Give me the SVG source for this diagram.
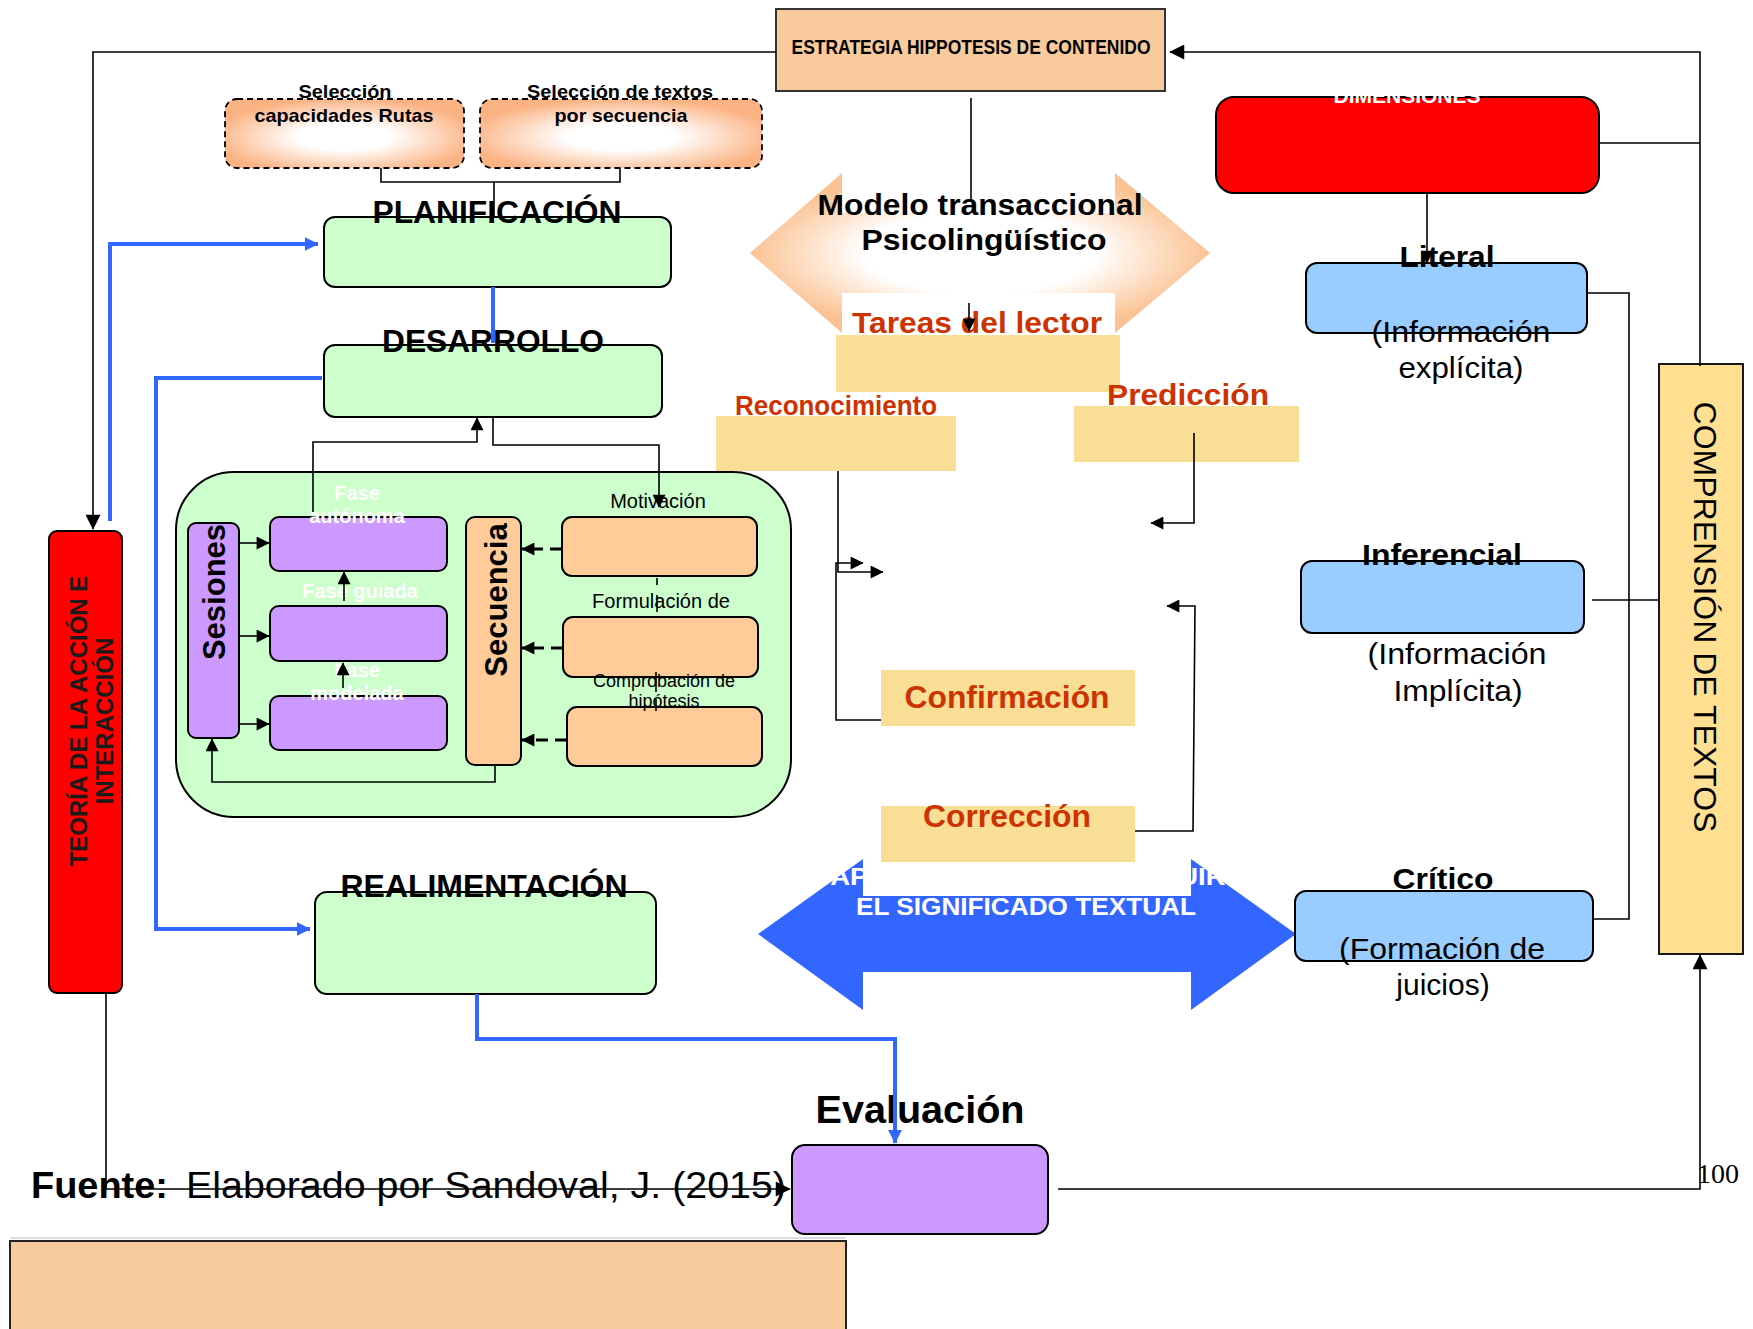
<svg xmlns="http://www.w3.org/2000/svg" width="1753" height="1329" viewBox="0 0 1753 1329">
<defs>
  <marker id="ah" viewBox="0 0 10 10" refX="9.5" refY="5" markerWidth="17" markerHeight="15" markerUnits="userSpaceOnUse" orient="auto"><path d="M0,0 L10,5 L0,10 z" fill="#000"/></marker>
  <marker id="ahs" viewBox="0 0 10 10" refX="9.5" refY="5" markerWidth="16" markerHeight="13" markerUnits="userSpaceOnUse" orient="auto"><path d="M0,0 L10,5 L0,10 z" fill="#000"/></marker>
  <marker id="ahb" viewBox="0 0 10 10" refX="9.5" refY="5" markerWidth="14" markerHeight="16" markerUnits="userSpaceOnUse" orient="auto"><path d="M0,0 L10,5 L0,10 z" fill="#3366FF"/></marker>
  <radialGradient id="gSel" cx="0.5" cy="0.55" r="0.55">
    <stop offset="0" stop-color="#FFFFFF"/>
    <stop offset="0.35" stop-color="#FFFFFF"/>
    <stop offset="1" stop-color="#FBB384"/>
  </radialGradient>
  <radialGradient id="gHex" cx="0.5" cy="0.5" r="0.5">
    <stop offset="0" stop-color="#FFFFFF"/>
    <stop offset="0.5" stop-color="#FFFFFF"/>
    <stop offset="1" stop-color="#FBC393"/>
  </radialGradient>
</defs>
<style>
  text { font-family: 'Liberation Sans', Arial, sans-serif; fill:#000; }
  .b { font-weight: bold; }
  .bx { stroke:#000; stroke-width:2; }
  .green { fill:#CCFFCC; }
  .purple { fill:#CC99FF; }
  .peach { fill:#FFCC99; }
  .sky { fill:#99CCFF; }
  .yel { fill:#F9DE95; }
  .ln { fill:none; stroke:#000; stroke-width:1.6; }
  .bl { fill:none; stroke:#3366FF; stroke-width:4; }
  .dsh { fill:none; stroke:#000; stroke-width:3; stroke-dasharray:12 7; }
  .or { fill:#CC3300; font-weight:bold; }
  .wt { fill:#FFFFFF; font-weight:bold; }
</style>
<rect width="1753" height="1329" fill="#FFFFFF"/>

<g id="estrategia">
  <rect x="776" y="9" width="389" height="82" fill="#F9CB9C" stroke="#333" stroke-width="2"/>
  <text x="971" y="54" class="b" font-size="20" text-anchor="middle" textLength="359" lengthAdjust="spacingAndGlyphs">ESTRATEGIA HIPPOTESIS DE CONTENIDO</text>
</g>

<g id="seleccion1">
  <rect x="225" y="99" width="239" height="69" rx="12" fill="url(#gSel)" stroke="#000" stroke-width="1.8" stroke-dasharray="6 4"/>
  <text x="345" y="98" class="b" font-size="19" text-anchor="middle" textLength="93" lengthAdjust="spacingAndGlyphs">Selección</text>
  <text x="344" y="122" class="b" font-size="19" text-anchor="middle" textLength="179" lengthAdjust="spacingAndGlyphs">capacidades Rutas</text>
</g>
<g id="seleccion2">
  <rect x="480" y="99" width="282" height="69" rx="12" fill="url(#gSel)" stroke="#000" stroke-width="1.8" stroke-dasharray="6 4"/>
  <text x="620" y="98" class="b" font-size="19" text-anchor="middle" textLength="186" lengthAdjust="spacingAndGlyphs">Selección de textos</text>
  <text x="621" y="122" class="b" font-size="19" text-anchor="middle" textLength="133" lengthAdjust="spacingAndGlyphs">por secuencia</text>
</g>

<g id="planificacion">
  <rect x="324" y="217" width="347" height="70" rx="11" class="green bx"/>
  <text x="497" y="223" class="b" font-size="31" text-anchor="middle" textLength="249" lengthAdjust="spacingAndGlyphs">PLANIFICACIÓN</text>
</g>
<g id="desarrollo">
  <rect x="324" y="345" width="338" height="72" rx="11" class="green bx"/>
  <text x="493" y="352" class="b" font-size="31" text-anchor="middle" textLength="222" lengthAdjust="spacingAndGlyphs">DESARROLLO</text>
</g>

<g id="modelo">
  <polygon points="750,253 842,173 842,213 1115,213 1115,173 1210,253 1115,333 1115,293 842,293 842,333" fill="url(#gHex)"/>
  <text x="980" y="215" class="b" font-size="30" text-anchor="middle" textLength="325" lengthAdjust="spacingAndGlyphs">Modelo transaccional</text>
  <text x="984" y="250" class="b" font-size="30" text-anchor="middle" textLength="245" lengthAdjust="spacingAndGlyphs">Psicolingüístico</text>
</g>

<g id="tareas">
  <rect x="836" y="335" width="284" height="57" class="yel"/>
  <text x="977" y="333" class="or" font-size="30" text-anchor="middle" textLength="250" lengthAdjust="spacingAndGlyphs">Tareas del lector</text>
</g>
<g id="reconocimiento">
  <rect x="716" y="416" width="240" height="55" class="yel"/>
  <text x="836" y="415" class="or" font-size="27" text-anchor="middle" textLength="202" lengthAdjust="spacingAndGlyphs">Reconocimiento</text>
</g>
<g id="prediccion">
  <rect x="1074" y="406" width="225" height="56" class="yel"/>
  <text x="1188" y="405" class="or" font-size="30" text-anchor="middle" textLength="162" lengthAdjust="spacingAndGlyphs">Predicción</text>
</g>
<g id="confirmacion">
  <rect x="881" y="670" width="254" height="56" class="yel"/>
  <text x="1007" y="708" class="or" font-size="31" text-anchor="middle" textLength="205" lengthAdjust="spacingAndGlyphs">Confirmación</text>
</g>

<g id="capacidad">
  <polygon points="758,934 863,859 863,896 1191,896 1191,859 1296,934 1191,1010 1191,972 863,972 863,1010" fill="#3366FF"/>
  <text x="1018" y="885" class="wt" font-size="23" text-anchor="middle" textLength="415" lengthAdjust="spacingAndGlyphs">CAPACIDAD PARA CONSTRUIR</text>
  <text x="1026" y="915" class="wt" font-size="23" text-anchor="middle" textLength="340" lengthAdjust="spacingAndGlyphs">EL SIGNIFICADO TEXTUAL</text>
</g>
<g id="correccion">
  <rect x="881" y="806" width="254" height="56" class="yel"/>
  <text x="1007" y="827" class="or" font-size="31" text-anchor="middle" textLength="168" lengthAdjust="spacingAndGlyphs">Corrección</text>
</g>

<g id="dimensiones">
  <rect x="1216" y="97" width="383" height="96" rx="18" fill="#FF0000" stroke="#000" stroke-width="2"/>
  <text x="1407" y="103" class="wt" font-size="21" text-anchor="middle">DIMENSIONES</text>
</g>
<g id="literal">
  <rect x="1306" y="263" width="281" height="70" rx="11" class="sky bx"/>
  <text x="1447" y="267" class="b" font-size="30" text-anchor="middle" textLength="95" lengthAdjust="spacingAndGlyphs">Literal</text>
  <text x="1461" y="342" font-size="30" text-anchor="middle" textLength="179" lengthAdjust="spacingAndGlyphs">(Información</text>
  <text x="1461" y="378" font-size="30" text-anchor="middle" textLength="125" lengthAdjust="spacingAndGlyphs">explícita)</text>
</g>
<g id="inferencial">
  <rect x="1301" y="561" width="283" height="72" rx="11" class="sky bx"/>
  <text x="1442" y="565" class="b" font-size="30" text-anchor="middle" textLength="160" lengthAdjust="spacingAndGlyphs">Inferencial</text>
  <text x="1457" y="664" font-size="30" text-anchor="middle" textLength="179" lengthAdjust="spacingAndGlyphs">(Información</text>
  <text x="1458" y="701" font-size="30" text-anchor="middle" textLength="129" lengthAdjust="spacingAndGlyphs">Implícita)</text>
</g>
<g id="critico">
  <rect x="1295" y="891" width="298" height="70" rx="11" class="sky bx"/>
  <text x="1443" y="889" class="b" font-size="30" text-anchor="middle" textLength="101" lengthAdjust="spacingAndGlyphs">Crítico</text>
  <text x="1442" y="959" font-size="30" text-anchor="middle" textLength="206" lengthAdjust="spacingAndGlyphs">(Formación de</text>
  <text x="1443" y="995" font-size="30" text-anchor="middle">juicios)</text>
</g>
<g id="comprension">
  <rect x="1659" y="364" width="84" height="590" fill="#FFDF91" stroke="#000" stroke-width="1.8"/>
  <text transform="translate(1694,617) rotate(90)" font-size="32" text-anchor="middle">COMPRENSIÓN DE TEXTOS</text>
</g>

<g id="teoria">
  <rect x="49" y="531" width="73" height="462" rx="8" fill="#FF0000" stroke="#000" stroke-width="2"/>
  <text transform="translate(87,721) rotate(-90)" class="b" font-size="24" text-anchor="middle" style="fill:#1a1a1a">TEORÍA DE LA ACCIÓN E</text>
  <text transform="translate(113,721) rotate(-90)" class="b" font-size="24" text-anchor="middle" style="fill:#1a1a1a">INTERACCIÓN</text>
</g>

<g id="contenedor">
  <rect x="176" y="472" width="615" height="345" rx="58" class="green bx"/>
</g>
<g id="sesiones">
  <rect x="188" y="523" width="51" height="215" rx="8" class="purple bx"/>
  <text transform="translate(225,592) rotate(-90)" class="b" font-size="31" text-anchor="middle">Sesiones</text>
</g>
<g id="fase-autonoma">
  <rect x="270" y="517" width="177" height="54" rx="9" class="purple bx"/>
  <text x="357" y="500" class="wt" font-size="20" text-anchor="middle">Fase</text>
  <text x="357" y="523" class="wt" font-size="20" text-anchor="middle">autónoma</text>
</g>
<g id="fase-guiada">
  <rect x="270" y="606" width="177" height="55" rx="9" class="purple bx"/>
  <text x="360" y="598" class="wt" font-size="20" text-anchor="middle">Fase guiada</text>
</g>
<g id="fase-modelada">
  <rect x="270" y="696" width="177" height="54" rx="9" class="purple bx"/>
  <text x="357" y="677" class="wt" font-size="20" text-anchor="middle">Fase</text>
  <text x="357" y="700" class="wt" font-size="20" text-anchor="middle">modelada</text>
</g>
<g id="secuencia">
  <rect x="466" y="517" width="55" height="248" rx="9" class="peach bx"/>
  <text transform="translate(507,600) rotate(-90)" class="b" font-size="31" text-anchor="middle">Secuencia</text>
</g>
<g id="motivacion">
  <rect x="562" y="517" width="195" height="59" rx="10" class="peach bx"/>
  <text x="658" y="508" font-size="20" text-anchor="middle">Motivación</text>
</g>
<g id="formulacion">
  <rect x="563" y="617" width="195" height="60" rx="10" class="peach bx"/>
  <text x="661" y="608" font-size="20" text-anchor="middle">Formulación de</text>
</g>
<g id="comprobacion">
  <rect x="567" y="707" width="195" height="59" rx="10" class="peach bx"/>
  <text x="664" y="687" font-size="18" text-anchor="middle">Comprobación de</text>
  <text x="664" y="707" font-size="18" text-anchor="middle">hipótesis</text>
</g>

<g id="realimentacion">
  <rect x="315" y="892" width="341" height="102" rx="12" class="green bx"/>
  <text x="484" y="897" class="b" font-size="31" text-anchor="middle" textLength="287" lengthAdjust="spacingAndGlyphs">REALIMENTACIÓN</text>
</g>
<g id="evaluacion">
  <rect x="792" y="1145" width="256" height="89" rx="13" class="purple bx"/>
  <text x="920" y="1123" class="b" font-size="38" text-anchor="middle" textLength="209" lengthAdjust="spacingAndGlyphs">Evaluación</text>
</g>
<g id="fuente">
  <text y="1198" font-size="37"><tspan x="31" class="b" textLength="137" lengthAdjust="spacingAndGlyphs">Fuente:</tspan><tspan x="186" textLength="600" lengthAdjust="spacingAndGlyphs">Elaborado por Sandoval, J. (2015)</tspan></text>
</g>
<g id="pagina">
  <text x="1697" y="1183" font-size="28" style="font-family:'Liberation Serif', 'Times New Roman', serif">100</text>
</g>
<g id="recuadro-inferior">
  <line x1="10" y1="1238" x2="846" y2="1238" stroke="#DDDDDD" stroke-width="2"/>
  <rect x="10" y="1241" width="836" height="100" fill="#F8CB9C" stroke="#222" stroke-width="2"/>
</g>

<g id="connectors">
  <polyline class="ln" points="776,52 93,52 93,529" stroke-width="2" marker-end="url(#ah)"/>
  <polyline class="ln" points="1700,366 1700,52 1170,52" stroke-width="2" marker-end="url(#ah)"/>
  <line class="ln" x1="1599" y1="143" x2="1700" y2="143"/>
  <line class="ln" x1="1427" y1="193" x2="1427" y2="263" stroke-width="2" marker-end="url(#ahs)"/>
  <polyline class="ln" points="1587,293 1629,293 1629,919 1593,919"/>
  <line class="ln" x1="1592" y1="600" x2="1659" y2="600"/>
  <polyline class="ln" points="1058,1189 1700,1189 1700,955" stroke-width="2" marker-end="url(#ah)"/>
  <polyline class="ln" points="106,993 106,1189 790,1189" stroke-width="2" marker-end="url(#ah)"/>
  <line class="ln" x1="971" y1="98" x2="971" y2="200"/>
  <line class="ln" x1="969" y1="303" x2="969" y2="331" marker-end="url(#ahs)"/>
  <polyline class="ln" points="381,168 381,182 620,182 620,168"/>
  <line class="ln" x1="494" y1="182" x2="494" y2="217"/>
  <polyline class="bl" points="110,521 110,244 318,244" marker-end="url(#ahb)"/>
  <line class="bl" x1="493" y1="287" x2="493" y2="343"/>
  <polyline class="bl" points="322,378 156,378 156,929 310,929" marker-end="url(#ahb)"/>
  <polyline class="bl" points="477,994 477,1039 895,1039 895,1143" marker-end="url(#ahb)"/>
  <polyline class="ln" points="313,512 313,442 477,442 477,418" stroke-width="2" marker-end="url(#ahs)"/>
  <polyline class="ln" points="493,417 493,445 659,445 659,507" stroke-width="2" marker-end="url(#ahs)"/>
  <line class="ln" x1="239" y1="543" x2="269" y2="543" stroke-width="2" marker-end="url(#ahs)"/>
  <line class="ln" x1="239" y1="636" x2="269" y2="636" stroke-width="2" marker-end="url(#ahs)"/>
  <line class="ln" x1="239" y1="724" x2="269" y2="724" stroke-width="2" marker-end="url(#ahs)"/>
  <line class="ln" x1="344" y1="601" x2="344" y2="572" stroke-width="2" marker-end="url(#ahs)"/>
  <line class="ln" x1="343" y1="688" x2="343" y2="663" stroke-width="2" marker-end="url(#ahs)"/>
  <polyline class="ln" points="495,765 495,782 212,782 212,739" stroke-width="2" marker-end="url(#ahs)"/>
  <line class="dsh" x1="562" y1="549" x2="522" y2="549" marker-end="url(#ahs)"/>
  <line class="dsh" x1="563" y1="648" x2="522" y2="648" marker-end="url(#ahs)"/>
  <line class="dsh" x1="567" y1="740" x2="522" y2="740" marker-end="url(#ahs)"/>
  <line class="ln" x1="657" y1="578" x2="657" y2="585" stroke-width="1.2"/>
  <line class="ln" x1="657" y1="595" x2="657" y2="612" stroke-width="1.2"/>
  <line class="ln" x1="656" y1="672" x2="656" y2="692" stroke-width="1.2"/>
  <line class="ln" x1="656" y1="699" x2="656" y2="711" stroke-width="1.2"/>
  <polyline class="ln" points="838,471 838,572 883,572" stroke-width="2" marker-end="url(#ahs)"/>
  <polyline class="ln" points="881,720 836,720 836,563 863,563" stroke-width="2" marker-end="url(#ahs)"/>
  <polyline class="ln" points="1194,433 1194,523 1151,523" stroke-width="2" marker-end="url(#ahs)"/>
  <polyline class="ln" points="1135,831 1193,831 1195,606 1167,606" stroke-width="2" marker-end="url(#ahs)"/>
</g>
</svg>
